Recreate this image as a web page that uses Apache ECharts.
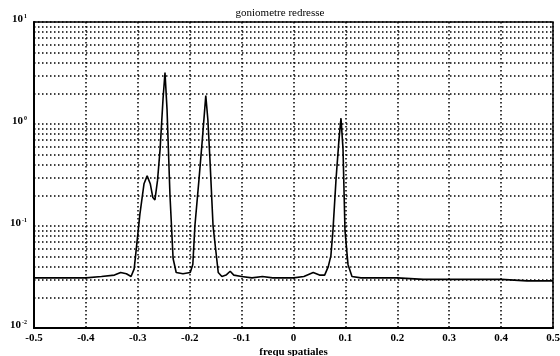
<!DOCTYPE html>
<html>
<head>
<meta charset="utf-8">
<script src="https://cdn.jsdelivr.net/npm/echarts@6/dist/echarts.min.js"></script>
<style>
  html, body { margin: 0; padding: 0; background: #fff; }
  #chart { width: 560px; height: 356px; }
</style>
</head>
<body>
<div id="chart"></div>
<script>
// spectre : frequence spatiale -> amplitude
const freq = [
  -0.50, -0.45, -0.40, -0.37, -0.345, -0.333, -0.322, -0.313,
  -0.307, -0.302, -0.296, -0.288, -0.282, -0.276, -0.271, -0.267,
  -0.262, -0.257, -0.2514, -0.2476, -0.2437, -0.238, -0.232, -0.226,
  -0.213, -0.199, -0.194, -0.190, -0.182, -0.176, -0.169, -0.165,
  -0.161, -0.155, -0.145, -0.138, -0.130, -0.122, -0.115, -0.100,
  -0.08, -0.06, -0.04, -0.02, 0.00, 0.02, 0.038, 0.05,
  0.060, 0.067, 0.072, 0.076, 0.082, 0.0877, 0.0915, 0.0954,
  0.0992, 0.105, 0.1127, 0.13, 0.15, 0.20, 0.25, 0.30,
  0.35, 0.40, 0.45, 0.50
];
const amp = [
  0.031, 0.031, 0.031, 0.032, 0.033, 0.035, 0.034, 0.032,
  0.038, 0.066, 0.13, 0.26, 0.31, 0.26, 0.19, 0.18,
  0.28, 0.57, 1.76, 3.2, 1.4, 0.2, 0.048, 0.035,
  0.034, 0.035, 0.042, 0.10, 0.29, 0.67, 1.9, 1.1,
  0.45, 0.10, 0.035, 0.032, 0.033, 0.036, 0.033, 0.032,
  0.031, 0.032, 0.031, 0.031, 0.031, 0.032, 0.035, 0.033,
  0.033, 0.04, 0.051, 0.09, 0.29, 0.71, 1.14, 0.57,
  0.09, 0.042, 0.032, 0.031, 0.031, 0.031, 0.030, 0.030,
  0.030, 0.030, 0.029, 0.029
];
// lignes de grille intermediaires (echelle log)
const minorGrid = [
  0.02, 0.03, 0.04, 0.05, 0.06, 0.07, 0.08, 0.09,
  0.2, 0.3, 0.4, 0.5, 0.6, 0.7, 0.8, 0.9,
  2, 3, 4, 5, 6, 7, 8, 9
];
const titleText = 'goniometre redresse';
const xName = 'frequ spatiales';

const serif = '"Liberation Serif", "DejaVu Serif", serif';
const dotted = { color: '#000', width: 1.5, type: [1.5, 2.5] };

const chart = echarts.init(document.getElementById('chart'));
chart.setOption({
  animation: false,
  backgroundColor: '#fff',
  title: {
    text: titleText,
    left: 'center',
    top: 3,
    textStyle: { fontFamily: serif, fontSize: 11, fontWeight: 'normal', color: '#000' }
  },
  grid: {
    left: 34, right: 7, top: 22, bottom: 28,
    outerBoundsMode: 'none',
    show: true, borderColor: '#000', borderWidth: 1.5
  },
  xAxis: {
    type: 'value',
    min: -0.5, max: 0.5, interval: 0.1,
    name: xName,
    nameLocation: 'middle',
    nameGap: 19,
    nameMoveOverlap: false,
    nameTextStyle: { fontFamily: serif, fontSize: 11, fontWeight: 'bold', color: '#000' },
    axisLine: { onZero: false, lineStyle: { color: '#000', width: 2 } },
    axisTick: { show: false },
    axisLabel: {
      margin: 5,
      fontFamily: serif, fontSize: 11, fontWeight: 'bold', color: '#000',
      formatter: v => String(Math.round(v * 10) / 10)
    },
    splitLine: { show: true, lineStyle: dotted }
  },
  yAxis: {
    type: 'log',
    logBase: 10,
    min: 0.01, max: 10,
    axisLine: { show: true, onZero: false, lineStyle: { color: '#000', width: 2 } },
    axisTick: { show: false },
    axisLabel: {
      margin: 7,
      formatter: v => '{b|10}{s|' + Math.round(Math.log10(v)) + '}',
      rich: {
        b: { fontFamily: serif, fontSize: 11, fontWeight: 'bold', color: '#000', padding: [0, 0, 5, 0] },
        s: { fontFamily: serif, fontSize: 6, fontWeight: 'bold', color: '#000', padding: [0, 0, 12, 1] }
      }
    },
    splitLine: { show: true, lineStyle: dotted }
  },
  series: [{
    type: 'line',
    data: freq.map((f, i) => [f, amp[i]]),
    showSymbol: false,
    smooth: false,
    lineStyle: { color: '#000', width: 1.6 },
    markLine: {
      silent: true,
      symbol: 'none',
      label: { show: false },
      lineStyle: dotted,
      data: minorGrid.map(v => ({ yAxis: v }))
    }
  }]
});
</script>
</body>
</html>
